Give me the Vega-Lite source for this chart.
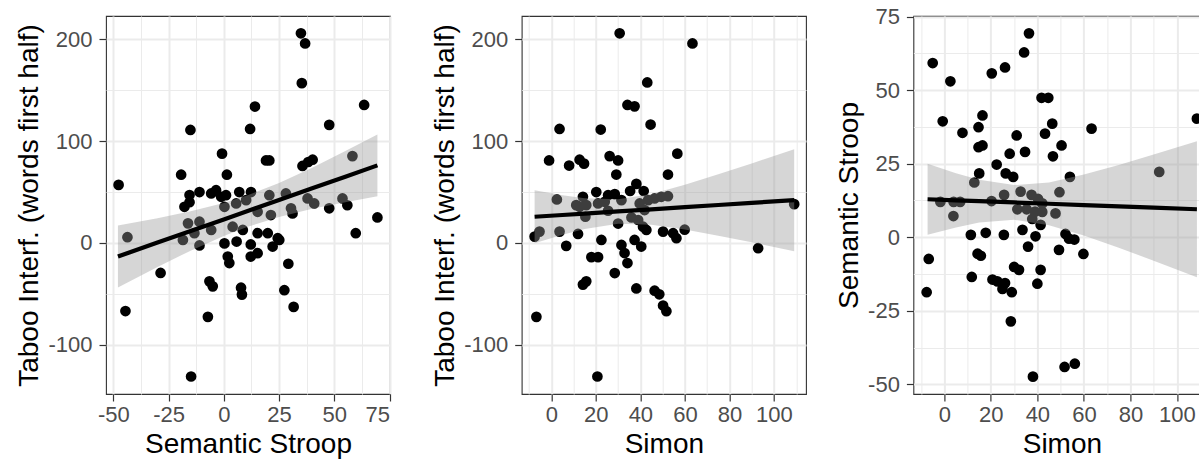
{
  "$schema": "https://vega.github.io/schema/vega-lite/v6.json",
  "padding": {"left": 15, "top": 5, "right": 0, "bottom": 0},
  "background": "white",
  "bounds": "flush",
  "spacing": 131.7,
  "config": {
    "font": "Liberation Sans",
    "view": {"stroke": "#333333", "strokeWidth": 1.1},
    "axis": {
      "domain": false,
      "tickColor": "#333333",
      "tickSize": 7,
      "tickWidth": 1.2,
      "labelColor": "#4D4D4D",
      "labelFontSize": 22,
      "labelExpr": "'' + datum.value",
      "titleFontSize": 28,
      "titleFontWeight": "normal",
      "titleColor": "#000000",
      "gridColor": "#EBEBEB",
      "gridWidth": 2
    },
    "axisX": {"labelPadding": 3, "titlePadding": 5},
    "axisY": {"labelPadding": 7, "titlePadding": 4}
  },
  "datasets": {
    "p1": [
      {"x": -47.6, "y": 57}, {"x": -43.6, "y": 5.6}, {"x": -44.5, "y": -67}, {"x": -28.6, "y": -29.5},
      {"x": -19.3, "y": 67}, {"x": -15.1, "y": 111}, {"x": -15.5, "y": 47}, {"x": -11, "y": 50},
      {"x": -17.8, "y": 35.5}, {"x": -15.5, "y": 40}, {"x": -5.7, "y": 48.6}, {"x": -3.5, "y": 51.8},
      {"x": -1.2, "y": 45.3}, {"x": 1.0, "y": 46.9}, {"x": 7.0, "y": 50}, {"x": 12.3, "y": 50},
      {"x": -0.8, "y": 87.7}, {"x": 1.4, "y": 67}, {"x": 11.9, "y": 112}, {"x": 14.1, "y": 134},
      {"x": 19.1, "y": 81}, {"x": 20.6, "y": 81}, {"x": 34.9, "y": 206}, {"x": 36.8, "y": 196},
      {"x": 35.3, "y": 157}, {"x": 35.6, "y": 75.6}, {"x": 38.2, "y": 79.5}, {"x": 40.2, "y": 81.8},
      {"x": 47.7, "y": 116}, {"x": 63.5, "y": 135.6}, {"x": 58.2, "y": 85.3}, {"x": 69.5, "y": 25},
      {"x": 47.7, "y": 34}, {"x": 53.7, "y": 43.7}, {"x": 55.9, "y": 37}, {"x": 37.9, "y": 43.7},
      {"x": 40.9, "y": 38.8}, {"x": 28.1, "y": 48.6}, {"x": 20.6, "y": 46.9}, {"x": 30.4, "y": 34},
      {"x": 31.1, "y": 29}, {"x": 21.3, "y": 27.4}, {"x": 10.1, "y": 42}, {"x": 5.6, "y": 38.8},
      {"x": 0.3, "y": 35.5}, {"x": 15.3, "y": 30.6}, {"x": -16.2, "y": 19.2}, {"x": -11, "y": 20.8},
      {"x": -13.3, "y": 9.5}, {"x": -5.7, "y": 12.7}, {"x": -18.5, "y": 2.9}, {"x": -11, "y": -2.5},
      {"x": 4.0, "y": 15.9}, {"x": 8.6, "y": 12.7}, {"x": 15.3, "y": 9.5}, {"x": 19.9, "y": 9.5},
      {"x": 24.4, "y": 4.6}, {"x": 22.1, "y": -3.6}, {"x": 0.3, "y": -0.5}, {"x": 5.8, "y": 1.3},
      {"x": 12.2, "y": -1.5}, {"x": 12.2, "y": -13.4}, {"x": 15.3, "y": -10.1}, {"x": 1.8, "y": -13.4},
      {"x": 2.5, "y": -19.8}, {"x": 29.2, "y": -20.5}, {"x": -7.2, "y": -72.7}, {"x": -14.8, "y": -131.3},
      {"x": -6.5, "y": -37.8}, {"x": -5.0, "y": -42.7}, {"x": 7.8, "y": -44}, {"x": 8.2, "y": -50.8},
      {"x": 27.4, "y": -46.5}, {"x": 31.6, "y": -62.9}, {"x": 59.7, "y": 9.5}, {"x": 25.1, "y": 2.9}
    ],
    "p2": [
      {"x": 30.7, "y": 206}, {"x": 63.4, "y": 196}, {"x": 43.1, "y": 157.7}, {"x": 34.2, "y": 135.6},
      {"x": 37.4, "y": 134.2}, {"x": 3.7, "y": 112}, {"x": 22.2, "y": 111.4}, {"x": 44.6, "y": 116.3},
      {"x": -1, "y": 81}, {"x": 8, "y": 76}, {"x": 12.7, "y": 81.8}, {"x": 14.7, "y": 77.9},
      {"x": 26.2, "y": 85.3}, {"x": 30, "y": 81}, {"x": 56.6, "y": 87.7}, {"x": 29.2, "y": 67.2},
      {"x": 52.4, "y": 67.2}, {"x": 20.2, "y": 50}, {"x": 14.2, "y": 45.3}, {"x": 25.5, "y": 46.9},
      {"x": 28.5, "y": 47.9}, {"x": 35.4, "y": 51}, {"x": 38.2, "y": 58}, {"x": 41.5, "y": 51},
      {"x": 2.5, "y": 42.7}, {"x": 11.2, "y": 37.1}, {"x": 12.7, "y": 35.5}, {"x": 15.7, "y": 37.1},
      {"x": 15.3, "y": 25.7}, {"x": 21, "y": 38.8}, {"x": 24, "y": 40.4}, {"x": 25.5, "y": 31.6},
      {"x": 31.5, "y": 42}, {"x": 36, "y": 25}, {"x": 39, "y": 22.5}, {"x": 39.7, "y": 38.8},
      {"x": 41.9, "y": 32.3}, {"x": 43.5, "y": 42}, {"x": 46.4, "y": 43.7}, {"x": 49.4, "y": 45.3},
      {"x": 52.4, "y": 45.9}, {"x": 30, "y": 19}, {"x": 41.2, "y": 15.9}, {"x": 42.7, "y": 12.7},
      {"x": 59.9, "y": 13}, {"x": 109.1, "y": 38.1}, {"x": -7.5, "y": 6.2}, {"x": -5.3, "y": 11.1},
      {"x": 3.7, "y": 11.1}, {"x": 12, "y": 8.8}, {"x": 6.7, "y": -2.9}, {"x": 22.5, "y": 2.9},
      {"x": 31.5, "y": -2}, {"x": 32.9, "y": -10}, {"x": 37.4, "y": 2.9}, {"x": 40.4, "y": -3.6},
      {"x": 50.2, "y": 11.1}, {"x": 54.7, "y": 9.5}, {"x": 56.2, "y": 4.6}, {"x": 18, "y": -14},
      {"x": 21, "y": -14}, {"x": 34.2, "y": -19.8}, {"x": 28.5, "y": -29.6}, {"x": 14.2, "y": -41},
      {"x": 15.7, "y": -37.8}, {"x": 38.2, "y": -44.8}, {"x": 46.4, "y": -47}, {"x": 48.5, "y": -50.5},
      {"x": 50.2, "y": -61.6}, {"x": 51.7, "y": -67.1}, {"x": -6.7, "y": -72.7}, {"x": 20.7, "y": -131.3},
      {"x": 92.9, "y": -5.2}
    ],
    "p3": [
      {"x": -5.0, "y": 59.2}, {"x": 2.6, "y": 53}, {"x": -0.7, "y": 39.4}, {"x": 7.8, "y": 35.5},
      {"x": 20.4, "y": 55.7}, {"x": 26.1, "y": 57.7}, {"x": 34.3, "y": 62.8}, {"x": 36.4, "y": 69.3},
      {"x": 41.8, "y": 47.4}, {"x": 44.7, "y": 47.4}, {"x": 16.4, "y": 41.4}, {"x": 14.7, "y": 37.4},
      {"x": 14.7, "y": 30.6}, {"x": 16.4, "y": 31.2}, {"x": 31.1, "y": 34.6}, {"x": 46.4, "y": 38.6},
      {"x": 43.3, "y": 35.2}, {"x": 50.4, "y": 31.2}, {"x": 46.7, "y": 27.5}, {"x": 28.1, "y": 28.4},
      {"x": 34.7, "y": 29}, {"x": 22.5, "y": 24.7}, {"x": 15, "y": 21.7}, {"x": 26.4, "y": 21.7},
      {"x": 29.6, "y": 20.5}, {"x": 54, "y": 20.5}, {"x": 63.3, "y": 36.9}, {"x": 92.4, "y": 22.2},
      {"x": 108.6, "y": 40.3}, {"x": 12.9, "y": 18.6}, {"x": 4.0, "y": 12}, {"x": 6.8, "y": 12},
      {"x": 3.9, "y": 7.2}, {"x": 20.3, "y": 12.3}, {"x": 25.7, "y": 14.4}, {"x": 32.8, "y": 15.5},
      {"x": 37.5, "y": 14.4}, {"x": 40.3, "y": 13}, {"x": 42.1, "y": 11.5}, {"x": 31.4, "y": 9.5},
      {"x": 35.4, "y": 9.5}, {"x": 39, "y": 8.7}, {"x": 42.1, "y": 8.6}, {"x": 47.8, "y": 8.1},
      {"x": 49.5, "y": 15.3}, {"x": 37.8, "y": 6.2}, {"x": 41.4, "y": 4.2}, {"x": 11.4, "y": 0.8},
      {"x": 17.8, "y": 1.5}, {"x": 25.6, "y": 0.8}, {"x": 33.6, "y": 2.5}, {"x": 39.2, "y": 0.3},
      {"x": 52.1, "y": 1.1}, {"x": 53.6, "y": -0.5}, {"x": 55.9, "y": -0.8}, {"x": 36, "y": -3.2},
      {"x": 49.3, "y": -4.3}, {"x": 59.8, "y": -5.7}, {"x": -6.7, "y": -7.4}, {"x": -7.6, "y": -18.7},
      {"x": 14.3, "y": -5.6}, {"x": 15.7, "y": -6.3}, {"x": 11.8, "y": -13.5}, {"x": 20.7, "y": -14.4},
      {"x": 22.8, "y": -15}, {"x": 26.1, "y": -15.6}, {"x": 25, "y": -17.6}, {"x": 29, "y": -18.7},
      {"x": 30, "y": -10.1}, {"x": 32.1, "y": -11.1}, {"x": 41.4, "y": -11.1}, {"x": 40, "y": -15.8},
      {"x": 28.6, "y": -28.6}, {"x": 38.1, "y": -47.4}, {"x": 51.7, "y": -44.1}, {"x": 56.1, "y": -43},
      {"x": -1.7, "y": 12}
    ],
    "b1": [
      {"x": -47.9, "fit": -13.4, "lo": -43.8, "hi": 17.0},
      {"x": -30, "fit": 0.3, "lo": -23.6, "hi": 24.2},
      {"x": -15, "fit": 11.7, "lo": -7.6, "hi": 31.0},
      {"x": 0, "fit": 23.1, "lo": 6.9, "hi": 39.3},
      {"x": 10.8, "fit": 31.4, "lo": 15.9, "hi": 46.9},
      {"x": 25, "fit": 42.2, "lo": 25.5, "hi": 58.9},
      {"x": 40, "fit": 53.7, "lo": 33.5, "hi": 73.9},
      {"x": 55, "fit": 65.1, "lo": 40.0, "hi": 90.2},
      {"x": 69.5, "fit": 76.2, "lo": 45.8, "hi": 106.6}
    ],
    "b2": [
      {"x": -7.5, "fit": 25.7, "lo": -0.3, "hi": 51.7},
      {"x": 5, "fit": 27.45, "lo": 7.95, "hi": 46.95},
      {"x": 15, "fit": 28.85, "lo": 13.75, "hi": 43.95},
      {"x": 30, "fit": 30.94, "lo": 18.94, "hi": 42.94},
      {"x": 45, "fit": 33.04, "lo": 17.94, "hi": 48.14},
      {"x": 60, "fit": 35.14, "lo": 13.14, "hi": 57.14},
      {"x": 75, "fit": 37.23, "lo": 7.03, "hi": 67.43},
      {"x": 90, "fit": 39.33, "lo": 0.53, "hi": 78.13},
      {"x": 109.1, "fit": 42.0, "lo": -8.1, "hi": 92.1}
    ],
    "b3": [
      {"x": -7.2, "fit": 12.9, "lo": 0.8, "hi": 25.0},
      {"x": 5, "fit": 12.54, "lo": 3.31, "hi": 21.77},
      {"x": 15, "fit": 12.25, "lo": 4.98, "hi": 19.52},
      {"x": 30, "fit": 11.81, "lo": 5.91, "hi": 17.71},
      {"x": 45, "fit": 11.37, "lo": 4.1, "hi": 18.64},
      {"x": 60, "fit": 10.93, "lo": 0.57, "hi": 21.29},
      {"x": 75, "fit": 10.49, "lo": -3.58, "hi": 24.56},
      {"x": 90, "fit": 10.05, "lo": -7.98, "hi": 28.08},
      {"x": 108.6, "fit": 9.5, "lo": -13.6, "hi": 32.6}
    ]
  },
  "hconcat": [
    {
      "width": 284,
      "height": 378,
      "resolve": {"axis": {"x": "independent", "y": "independent"}},
      "layer": [
        {
          "data": {"name": "p1"},
          "mark": {"type": "circle", "size": 115, "color": "#000000", "opacity": 1},
          "encoding": {
            "x": {"field": "x", "type": "quantitative", "scale": {"domain": [-53.3, 75.2], "nice": false, "zero": false},
                  "axis": {"values": [-50, -25, 0, 25, 50, 75], "title": "Semantic Stroop", "grid": true}},
            "y": {"field": "y", "type": "quantitative", "scale": {"domain": [-148.5, 223], "nice": false, "zero": false},
                  "axis": {"values": [-100, 0, 100, 200], "title": "Taboo Interf. (words first half)", "grid": true}}
          }
        },
        {
          "data": {"name": "b1"},
          "mark": {"type": "area", "color": "#999999", "opacity": 0.4},
          "encoding": {
            "x": {"field": "x", "type": "quantitative", "scale": {"domain": [-53.3, 75.2], "nice": false, "zero": false},
                  "axis": {"orient": "top", "values": [-37.5, -12.5, 12.5, 37.5, 62.5], "grid": true, "gridWidth": 1, "labels": false, "ticks": false, "domain": false, "title": null, "minExtent": 0, "maxExtent": 0}},
            "y": {"field": "lo", "type": "quantitative", "scale": {"domain": [-148.5, 223], "nice": false, "zero": false},
                  "axis": {"orient": "right", "values": [-50, 50, 150], "grid": true, "gridWidth": 1, "labels": false, "ticks": false, "domain": false, "title": null, "minExtent": 0, "maxExtent": 0}},
            "y2": {"field": "hi"}
          }
        },
        {
          "data": {"name": "b1"},
          "mark": {"type": "line", "color": "#000000", "strokeWidth": 4.2},
          "encoding": {
            "x": {"field": "x", "type": "quantitative", "axis": null},
            "y": {"field": "fit", "type": "quantitative", "axis": null}
          }
        }
      ]
    },
    {
      "bounds": "flush",
      "spacing": 106.7,
      "hconcat": [
        {
          "width": 284.3,
          "height": 378,
          "resolve": {"axis": {"x": "independent", "y": "independent"}},
          "layer": [
            {
              "data": {"name": "p2"},
              "mark": {"type": "circle", "size": 115, "color": "#000000", "opacity": 1},
              "encoding": {
                "x": {"field": "x", "type": "quantitative", "scale": {"domain": [-13.3, 114.4], "nice": false, "zero": false},
                      "axis": {"values": [0, 20, 40, 60, 80, 100], "title": "Simon", "grid": true}},
                "y": {"field": "y", "type": "quantitative", "scale": {"domain": [-148.5, 223], "nice": false, "zero": false},
                      "axis": {"values": [-100, 0, 100, 200], "title": "Taboo Interf. (words first half)", "grid": true}}
              }
            },
            {
              "data": {"name": "b2"},
              "mark": {"type": "area", "color": "#999999", "opacity": 0.4},
              "encoding": {
                "x": {"field": "x", "type": "quantitative", "scale": {"domain": [-13.3, 114.4], "nice": false, "zero": false},
                      "axis": {"orient": "top", "values": [-10, 10, 30, 50, 70, 90, 110], "grid": true, "gridWidth": 1, "labels": false, "ticks": false, "domain": false, "title": null, "minExtent": 0, "maxExtent": 0}},
                "y": {"field": "lo", "type": "quantitative", "scale": {"domain": [-148.5, 223], "nice": false, "zero": false},
                      "axis": {"orient": "right", "values": [-50, 50, 150], "grid": true, "gridWidth": 1, "labels": false, "ticks": false, "domain": false, "title": null, "minExtent": 0, "maxExtent": 0}},
                "y2": {"field": "hi"}
              }
            },
            {
              "data": {"name": "b2"},
              "mark": {"type": "line", "color": "#000000", "strokeWidth": 4.2},
              "encoding": {
                "x": {"field": "x", "type": "quantitative", "axis": null},
                "y": {"field": "fit", "type": "quantitative", "axis": null}
              }
            }
          ]
        },
        {
          "width": 297,
          "height": 378,
          "resolve": {"axis": {"x": "independent", "y": "independent"}},
          "layer": [
            {
              "data": {"name": "p3"},
              "mark": {"type": "circle", "size": 115, "color": "#000000", "opacity": 1},
              "encoding": {
                "x": {"field": "x", "type": "quantitative", "scale": {"domain": [-13.3, 114.4], "nice": false, "zero": false},
                      "axis": {"values": [0, 20, 40, 60, 80, 100], "title": "Simon", "grid": true}},
                "y": {"field": "y", "type": "quantitative", "scale": {"domain": [-53.3, 75.2], "nice": false, "zero": false},
                      "axis": {"values": [-50, -25, 0, 25, 50, 75], "title": "Semantic Stroop", "grid": true}}
              }
            },
            {
              "data": {"name": "b3"},
              "mark": {"type": "area", "color": "#999999", "opacity": 0.4},
              "encoding": {
                "x": {"field": "x", "type": "quantitative", "scale": {"domain": [-13.3, 114.4], "nice": false, "zero": false},
                      "axis": {"orient": "top", "values": [-10, 10, 30, 50, 70, 90, 110], "grid": true, "gridWidth": 1, "labels": false, "ticks": false, "domain": false, "title": null, "minExtent": 0, "maxExtent": 0}},
                "y": {"field": "lo", "type": "quantitative", "scale": {"domain": [-53.3, 75.2], "nice": false, "zero": false},
                      "axis": {"orient": "right", "values": [-37.5, -12.5, 12.5, 37.5, 62.5], "grid": true, "gridWidth": 1, "labels": false, "ticks": false, "domain": false, "title": null, "minExtent": 0, "maxExtent": 0}},
                "y2": {"field": "hi"}
              }
            },
            {
              "data": {"name": "b3"},
              "mark": {"type": "line", "color": "#000000", "strokeWidth": 4.2},
              "encoding": {
                "x": {"field": "x", "type": "quantitative", "axis": null},
                "y": {"field": "fit", "type": "quantitative", "axis": null}
              }
            }
          ]
        }
      ]
    }
  ]
}
